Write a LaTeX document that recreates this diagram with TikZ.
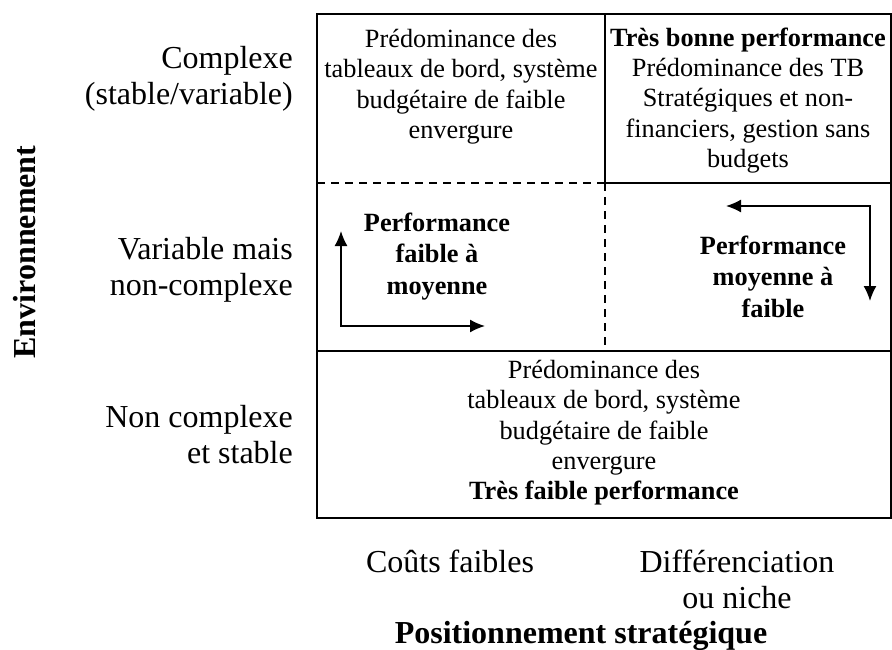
\documentclass[tikz,border=0pt]{standalone}
\usepackage{fontspec}
\setmainfont{Liberation Serif}
\usetikzlibrary{arrows.meta}
\newcommand{\innerfs}{\fontsize{26.3}{30.4}\selectfont}
\newcommand{\boldfs}{\fontsize{26.3}{31.5}\selectfont\bfseries}
\newcommand{\outerfs}{\fontsize{32}{36.5}\selectfont}
\newcommand{\fst}{\rule{0pt}{25pt}}
\newcommand{\ost}{\rule{0pt}{30pt}}
\begin{document}
\begin{tikzpicture}[x=1pt,y=-1pt,
  gridline/.style={line width=1.7pt},
  dashline/.style={line width=1.4pt,dash pattern=on 8pt off 6pt},
  arr/.style={line width=1.6pt,{Latex[length=15pt,width=13pt]}-{Latex[length=15pt,width=13pt]}},
  celltext/.style={inner sep=0pt,align=center,anchor=north,font=\innerfs},
  boldtext/.style={inner sep=0pt,align=center,anchor=north,font=\boldfs},
  rowlabel/.style={inner sep=0pt,align=right,anchor=north east,font=\outerfs},
  collabel/.style={inner sep=0pt,align=center,anchor=north,font=\outerfs}]
\useasboundingbox (0,0) rectangle (892,650);
% grid
\coordinate (TL) at (317,14);
\coordinate (BR) at (891,518);
\coordinate (TC) at (605,14);
\coordinate (M1L) at (317,183);
\coordinate (M1C) at (605,183);
\coordinate (M1R) at (891,183);
\coordinate (M2L) at (317,351);
\coordinate (M2C) at (605,351);
\coordinate (M2R) at (891,351);
\draw[gridline] (TL) rectangle (BR);
\draw[gridline] (TC) -- (M1C);
\draw[gridline] (M1C) -- (M1R);
\draw[gridline] (M2L) -- (M2R);
\draw[dashline] (M1L) -- (M1C);
\draw[dashline] (M1C) -- (M2C);
% cell texts
\node[celltext] (tl) at (461,22) {\fst Prédominance des\\tableaux de bord, système\\budgétaire de faible\\envergure};
\node[celltext] (tr) at (748,21) {\fst\textbf{Très bonne performance}\\Prédominance des TB\\Stratégiques et non-\\financiers, gestion sans\\budgets};
\node[boldtext] (ml) at (437,206) {\fst Performance\\faible à\\moyenne};
\node[boldtext] (mr) at (773,229) {\fst Performance\\moyenne à\\faible};
\node[celltext] (bot) at (604,353) {\fst Prédominance des\\tableaux de bord, système\\budgétaire de faible\\envergure\\\textbf{Très faible performance}};
% arrows
\coordinate (a1) at (341,231);
\coordinate (a2) at (485,326);
\coordinate (b1) at (726,206);
\coordinate (b2) at (870,301);
\draw[arr] (a1) |- (a2);
\draw[arr] (b1) -| (b2);
% row labels
\node[rowlabel] (r1) at (293,38) {\ost Complexe\\(stable/variable)};
\node[rowlabel] (r2) at (293,229) {\ost Variable mais\\non-complexe};
\node[rowlabel] (r3) at (293,397) {\ost Non complexe\\et stable};
\node[inner sep=0pt,anchor=base,rotate=90,font=\outerfs\bfseries] (env) at (35,252) {Environnement};
% column labels
\node[collabel] (c1) at (450,542) {\ost Coûts faibles};
\node[collabel] (c2) at (737,542) {\ost Différenciation\\ou niche};
\node[inner sep=0pt,anchor=base,font=\outerfs\bfseries] (pos) at (581,643) {Positionnement stratégique};
\end{tikzpicture}
\end{document}
